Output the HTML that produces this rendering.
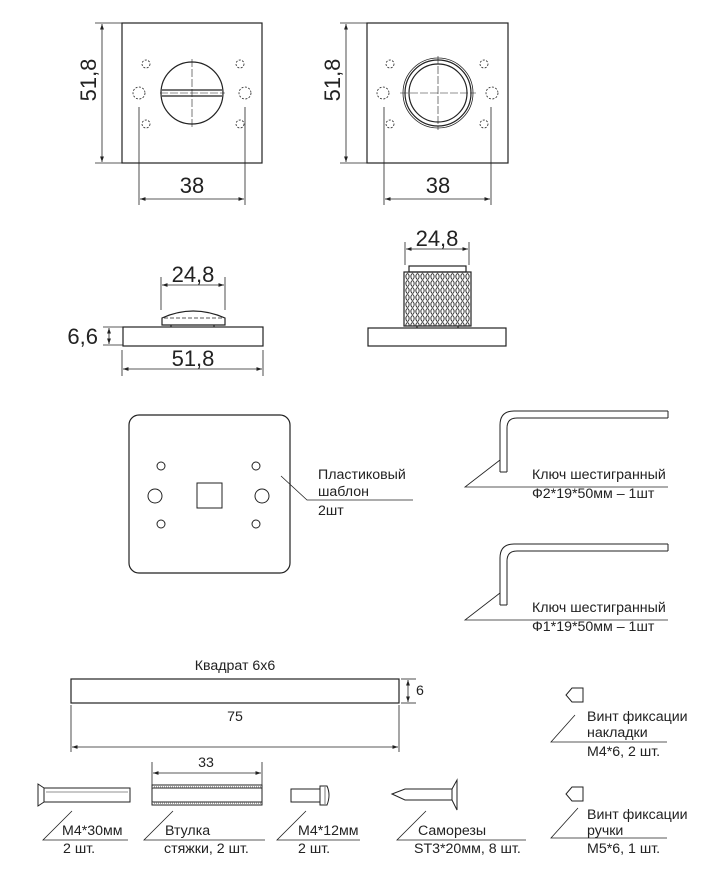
<!DOCTYPE html>
<html><head><meta charset="utf-8"><style>
html,body{margin:0;padding:0;background:#fff;}
svg{display:block;}
text{font-family:"Liberation Sans",Arial,sans-serif;fill:#222;}
.d{font-size:22px;}
.l{font-size:14.2px;}
</style></head><body>
<svg width="711" height="872" viewBox="0 0 711 872" xmlns="http://www.w3.org/2000/svg">
<defs>
<marker id="a" viewBox="0 0 10 10" refX="10" refY="5" markerWidth="7" markerHeight="7" orient="auto-start-reverse"><path d="M0,1.5 L10,5 L0,8.5 z" fill="#222"/></marker>
<pattern id="kn" width="5" height="7" patternUnits="userSpaceOnUse"><rect width="5" height="7" fill="#fff"/><ellipse cx="2.5" cy="3.5" rx="1.6" ry="2.8" fill="none" stroke="#222" stroke-width="0.9"/></pattern>
</defs>
<g stroke="#222" stroke-width="1.2" fill="none">
<rect x="122" y="23" width="140" height="140"/>
<line x1="95" y1="23" x2="122" y2="23" stroke-width="0.8"/>
<line x1="95" y1="163" x2="122" y2="163" stroke-width="0.8"/>
<line x1="102" y1="24" x2="102" y2="162" marker-start="url(#a)" marker-end="url(#a)" stroke-width="0.8"/>
<g stroke-dasharray="2,1.5" stroke-width="0.8">
<circle cx="146" cy="64" r="4"/><circle cx="240" cy="64" r="4"/>
<circle cx="146" cy="124" r="4"/><circle cx="240" cy="124" r="4"/>
<circle cx="139" cy="93" r="6"/><circle cx="245" cy="93" r="6"/>
</g>
<circle cx="192" cy="93" r="31"/>
<line x1="162" y1="90" x2="222" y2="90"/><line x1="162" y1="96" x2="222" y2="96"/>
<line x1="160" y1="93" x2="225" y2="93" stroke-width="0.6" stroke-dasharray="8,2"/>
<line x1="192" y1="59" x2="192" y2="127" stroke-width="0.6" stroke-dasharray="8,2"/>
<line x1="139" y1="107" x2="139" y2="205" stroke-width="0.8"/>
<line x1="245" y1="107" x2="245" y2="205" stroke-width="0.8"/>
<line x1="140" y1="199" x2="244" y2="199" marker-start="url(#a)" marker-end="url(#a)" stroke-width="0.8"/>

<rect x="367" y="23" width="141" height="140"/>
<line x1="340" y1="23" x2="367" y2="23" stroke-width="0.8"/>
<line x1="340" y1="163" x2="367" y2="163" stroke-width="0.8"/>
<line x1="346" y1="24" x2="346" y2="162" marker-start="url(#a)" marker-end="url(#a)" stroke-width="0.8"/>
<g stroke-dasharray="2,1.5" stroke-width="0.8">
<circle cx="390" cy="64" r="4"/><circle cx="484" cy="64" r="4"/>
<circle cx="390" cy="124" r="4"/><circle cx="484" cy="124" r="4"/>
<circle cx="383" cy="93" r="6"/><circle cx="492" cy="93" r="6"/>
</g>
<circle cx="438" cy="93" r="35" stroke-width="0.8"/>
<circle cx="438" cy="93" r="33"/>
<circle cx="438" cy="93" r="29"/>
<line x1="400" y1="93" x2="476" y2="93" stroke-width="0.6" stroke-dasharray="8,2"/>
<line x1="438" y1="56" x2="438" y2="130" stroke-width="0.6" stroke-dasharray="8,2"/>
<line x1="384" y1="107" x2="384" y2="205" stroke-width="0.8"/>
<line x1="491" y1="107" x2="491" y2="205" stroke-width="0.8"/>
<line x1="385" y1="199" x2="490" y2="199" marker-start="url(#a)" marker-end="url(#a)" stroke-width="0.8"/>

<rect x="123" y="327" width="140" height="19"/>
<path d="M162,325 L162,318 Q193,304 225,318 L225,325 Z"/>
<line x1="164" y1="318" x2="223" y2="318" stroke-dasharray="4,2" stroke-width="0.8"/>
<line x1="171" y1="325" x2="171" y2="327"/><line x1="214" y1="325" x2="214" y2="327"/>
<line x1="161" y1="277" x2="161" y2="310" stroke-width="0.8"/>
<line x1="225" y1="277" x2="225" y2="310" stroke-width="0.8"/>
<line x1="162" y1="285" x2="224" y2="285" marker-start="url(#a)" marker-end="url(#a)" stroke-width="0.8"/>
<line x1="103" y1="327" x2="123" y2="327" stroke-width="0.8"/>
<line x1="103" y1="345" x2="123" y2="345" stroke-width="0.8"/>
<line x1="109" y1="328" x2="109" y2="344" marker-start="url(#a)" marker-end="url(#a)" stroke-width="0.8"/>
<line x1="122" y1="350" x2="122" y2="376" stroke-width="0.8"/>
<line x1="263" y1="350" x2="263" y2="376" stroke-width="0.8"/>
<line x1="123" y1="369" x2="262" y2="369" marker-start="url(#a)" marker-end="url(#a)" stroke-width="0.8"/>

<rect x="368" y="328" width="138" height="18"/>
<rect x="404" y="272" width="67" height="54" fill="url(#kn)"/>
<rect x="409" y="266" width="57" height="6"/>
<line x1="417" y1="326" x2="417" y2="328"/><line x1="458" y1="326" x2="458" y2="328"/>
<line x1="405" y1="242" x2="405" y2="265" stroke-width="0.8"/>
<line x1="469" y1="242" x2="469" y2="265" stroke-width="0.8"/>
<line x1="406" y1="249" x2="468" y2="249" marker-start="url(#a)" marker-end="url(#a)" stroke-width="0.8"/>

<rect x="129" y="415" width="161" height="158" rx="10"/>
<g stroke-width="1">
<circle cx="161" cy="466" r="4"/><circle cx="256" cy="466" r="4"/>
<circle cx="161" cy="524" r="4"/><circle cx="256" cy="524" r="4"/>
<circle cx="155" cy="496" r="7"/><circle cx="262" cy="496" r="7"/>
<rect x="197" y="483" width="25" height="25"/>
</g>
<polyline points="281,476 307,500 413,500" stroke-width="0.8"/>

<path d="M500,472 L500,425 Q500,411 514,411 L668,411 M507,472 L507,428 Q507,418 517,418 L668,418 M500,472 L507,472 M668,411 L668,418" stroke-width="1"/>
<polyline points="500,460 465,487 668,487" stroke-width="0.8"/>
<path d="M500,605 L500,558 Q500,544 514,544 L668,544 M507,605 L507,561 Q507,551 517,551 L668,551 M500,605 L507,605 M668,544 L668,551" stroke-width="1"/>
<polyline points="500,593 465,620 668,620" stroke-width="0.8"/>

<rect x="71" y="679" width="328" height="24"/>
<line x1="401" y1="679" x2="416" y2="679" stroke-width="0.8"/>
<line x1="401" y1="703" x2="416" y2="703" stroke-width="0.8"/>
<line x1="408" y1="680" x2="408" y2="702" marker-start="url(#a)" marker-end="url(#a)" stroke-width="0.8"/>
<line x1="71" y1="705" x2="71" y2="752" stroke-width="0.8"/>
<line x1="399" y1="705" x2="399" y2="752" stroke-width="0.8"/>
<line x1="72" y1="747" x2="398" y2="747" marker-start="url(#a)" marker-end="url(#a)" stroke-width="0.8"/>

<path d="M583,688 L572,688 L566,695 L572,702 L583,702 Z" stroke-width="1"/>
<polyline points="575,715 551,742 667,742" stroke-width="0.8"/>

<path d="M38,784 L44,788 L44,802 L38,806 Z" stroke-width="1"/>
<rect x="44" y="788" width="86" height="14" stroke-width="1"/>
<line x1="46" y1="792" x2="128" y2="792" stroke-width="0.5"/>
<polyline points="72,811 43,840 128,840" stroke-width="0.8"/>

<rect x="152" y="785" width="110" height="20" stroke-width="1"/>
<rect x="152" y="788" width="110" height="14" stroke-width="1"/>
<line x1="152" y1="787" x2="262" y2="787" stroke-width="1.5" stroke-dasharray="1,1" stroke="#888"/>
<line x1="152" y1="803" x2="262" y2="803" stroke-width="1.5" stroke-dasharray="1,1" stroke="#888"/>
<line x1="152" y1="762" x2="152" y2="785" stroke-width="0.8"/>
<line x1="262" y1="762" x2="262" y2="785" stroke-width="0.8"/>
<line x1="153" y1="773" x2="261" y2="773" marker-start="url(#a)" marker-end="url(#a)" stroke-width="0.8"/>
<polyline points="173,811 144,840 265,840" stroke-width="0.8"/>

<rect x="291" y="789" width="29" height="13" stroke-width="1"/>
<path d="M320,786 L327,786 Q331,795 327,805 L320,805 Z" stroke-width="1"/>
<line x1="325" y1="787" x2="325" y2="804" stroke-width="0.6"/>
<polyline points="306,811 277,840 360,840" stroke-width="0.8"/>

<path d="M392,794 L405,789 L452,789 L452,800 L405,800 Z" stroke-width="1"/>
<path d="M452,789 L457,780 L457,810 L452,800" stroke-width="1"/>
<polyline points="426,811 397,840 526,840" stroke-width="0.8"/>

<path d="M583,787 L572,787 L566,794 L572,801 L583,801 Z" stroke-width="1"/>
<polyline points="578,808 551,838 667,838" stroke-width="0.8"/>
</g>

<text class="d" transform="translate(96,80) rotate(-90)" text-anchor="middle">51,8</text>
<text class="d" x="192" y="193" text-anchor="middle">38</text>
<text class="d" transform="translate(340,80) rotate(-90)" text-anchor="middle">51,8</text>
<text class="d" x="438" y="193" text-anchor="middle">38</text>
<text class="d" x="193" y="282" text-anchor="middle">24,8</text>
<text class="d" x="98" y="344" text-anchor="end">6,6</text>
<text class="d" x="193" y="366" text-anchor="middle">51,8</text>
<text class="d" x="437" y="246" text-anchor="middle">24,8</text>

<text class="l" x="318" y="479">Пластиковый</text>
<text class="l" x="318" y="496">шаблон</text>
<text class="l" x="318" y="515">2шт</text>
<text class="l" x="532" y="479">Ключ шестигранный</text>
<text class="l" x="532" y="498">Ф2*19*50мм – 1шт</text>
<text class="l" x="532" y="612">Ключ шестигранный</text>
<text class="l" x="532" y="631">Ф1*19*50мм – 1шт</text>

<text class="l" x="235" y="670" text-anchor="middle">Квадрат 6х6</text>
<text class="l" x="416" y="695">6</text>
<text class="l" x="235" y="721" text-anchor="middle">75</text>

<text class="l" x="587" y="721">Винт фиксации</text>
<text class="l" x="587" y="737">накладки</text>
<text class="l" x="587" y="756">M4*6, 2 шт.</text>

<text class="l" x="206" y="767" text-anchor="middle">33</text>
<text class="l" x="62" y="835">M4*30мм</text>
<text class="l" x="63" y="853">2 шт.</text>
<text class="l" x="165" y="835">Втулка</text>
<text class="l" x="164" y="853">стяжки, 2 шт.</text>
<text class="l" x="298" y="835">M4*12мм</text>
<text class="l" x="298" y="853">2 шт.</text>
<text class="l" x="418" y="835">Саморезы</text>
<text class="l" x="414" y="853">ST3*20мм, 8 шт.</text>
<text class="l" x="587" y="819">Винт фиксации</text>
<text class="l" x="587" y="835">ручки</text>
<text class="l" x="587" y="853">M5*6, 1 шт.</text>
</svg>
</body></html>
